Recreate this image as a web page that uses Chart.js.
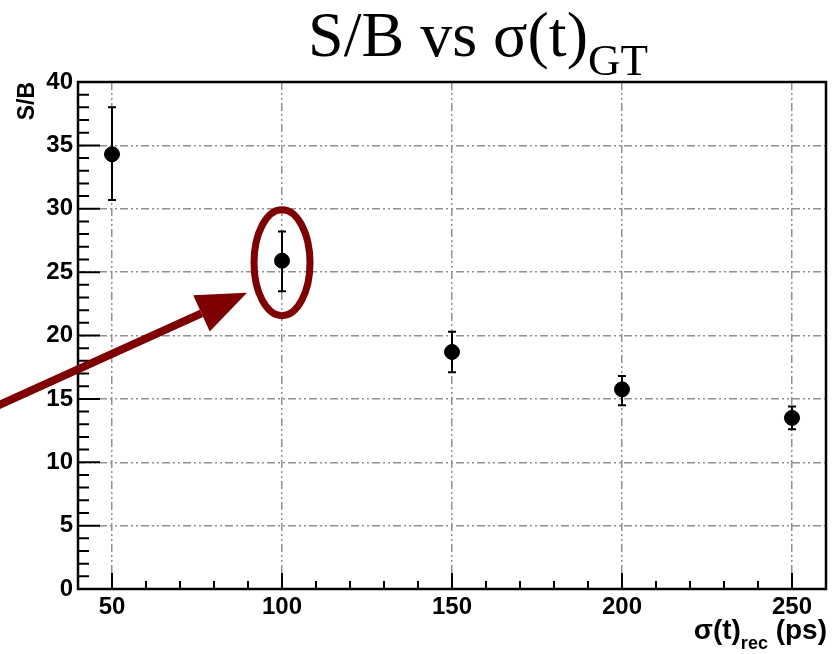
<!DOCTYPE html>
<html>
<head>
<meta charset="utf-8">
<script src="https://cdn.jsdelivr.net/npm/chart.js@4/dist/chart.umd.min.js"></script>
<style>
  html, body { margin: 0; padding: 0; background: #fff; }
  #wrap { width: 839px; height: 654px; position: relative; }
</style>
</head>
<body>
<div id="wrap"><canvas id="sbChart"></canvas></div>
<script>
// sigma(t) resolution points (ps) and S/B values
const sigmaValues = [50, 100, 150, 200, 250];
const sbValues = [34.3, 25.9, 18.7, 15.75, 13.5];
const errLow = [30.7, 23.5, 17.1, 14.5, 12.6];
const errHigh = [38.0, 28.2, 20.3, 16.8, 14.4];
const xTicks = [50, 100, 150, 200, 250];
const yTicks = [0, 5, 10, 15, 20, 25, 30, 35, 40];

const highlightIndex = 1; // the circled point
const darkRed = "#7f0000";
const sansBold = "'Liberation Sans', Arial, sans-serif";
const serif = "'Liberation Serif', 'Times New Roman', serif";

// error bars, frame, inner tick marks, titles and the annotation
const rootStylePlugin = {
  id: "rootStyle",
  afterDatasetsDraw(chart) {
    const { ctx, scales } = chart;
    const xs = scales.x;
    const ys = scales.y;

    // error bars
    ctx.save();
    ctx.strokeStyle = "#000";
    ctx.lineWidth = 2;
    sigmaValues.forEach((v, i) => {
      const px = xs.getPixelForValue(v);
      const top = ys.getPixelForValue(errHigh[i]);
      const bot = ys.getPixelForValue(errLow[i]);
      ctx.beginPath();
      ctx.moveTo(px, top);
      ctx.lineTo(px, bot);
      ctx.moveTo(px - 4, top);
      ctx.lineTo(px + 4, top);
      ctx.moveTo(px - 4, bot);
      ctx.lineTo(px + 4, bot);
      ctx.stroke();
    });
    ctx.restore();
  },
  afterDraw(chart) {
    const { ctx, chartArea, scales } = chart;
    const xs = scales.x;
    const ys = scales.y;
    const { left, right, top, bottom } = chartArea;

    ctx.save();
    // inner tick marks (major + minor)
    ctx.strokeStyle = "#000";
    ctx.lineWidth = 2;
    ctx.beginPath();
    for (let v = 1; v < 40; v++) {
      const py = ys.getPixelForValue(v);
      const len = v % 5 === 0 ? 22 : 11;
      ctx.moveTo(left, py);
      ctx.lineTo(left + len, py);
    }
    for (let v = 50; v < 260; v += 10) {
      const px = xs.getPixelForValue(v);
      const len = v % 50 === 0 ? 16 : 8;
      ctx.moveTo(px, bottom);
      ctx.lineTo(px, bottom - len);
    }
    ctx.stroke();

    // frame
    ctx.lineWidth = 2.5;
    ctx.strokeRect(left, top, right - left, bottom - top);

    // title  S/B vs σ(t)_GT
    ctx.fillStyle = "#000";
    ctx.textBaseline = "alphabetic";
    ctx.textAlign = "left";
    ctx.font = "64px " + serif;
    const mainTxt = "S/B vs σ(t)";
    const mainW = ctx.measureText(mainTxt).width;
    ctx.font = "45px " + serif;
    const subW = ctx.measureText("GT").width;
    const startX = 478 - (mainW + subW) / 2;
    ctx.font = "64px " + serif;
    ctx.fillText(mainTxt, startX, 56);
    ctx.font = "45px " + serif;
    ctx.fillText("GT", startX + mainW, 75);

    // y axis title
    ctx.save();
    ctx.translate(34, 82);
    ctx.rotate(-Math.PI / 2);
    ctx.textAlign = "right";
    ctx.font = "bold 23px " + sansBold;
    ctx.fillText("S/B", 0, 0);
    ctx.restore();

    // x axis title  σ(t)_rec (ps)
    ctx.textAlign = "left";
    ctx.font = "bold 28px " + sansBold;
    const t1 = "σ(t)";
    const t3 = " (ps)";
    const w1 = ctx.measureText(t1).width;
    const w3 = ctx.measureText(t3).width;
    ctx.font = "bold 18px " + sansBold;
    const w2 = ctx.measureText("rec").width;
    const x0 = right + 1 - (w1 + w2 + w3);
    ctx.font = "bold 28px " + sansBold;
    ctx.fillText(t1, x0, 639);
    ctx.fillText(t3, x0 + w1 + w2, 639);
    ctx.font = "bold 18px " + sansBold;
    ctx.fillText("rec", x0 + w1, 649);

    // annotation: ellipse around highlighted point + arrow
    const cx = xs.getPixelForValue(sigmaValues[highlightIndex]);
    const cy = ys.getPixelForValue(sbValues[highlightIndex]) + 2;
    ctx.strokeStyle = darkRed;
    ctx.fillStyle = darkRed;
    ctx.lineWidth = 7;
    ctx.beginPath();
    ctx.ellipse(cx, cy, 28, 53, 0, 0, Math.PI * 2);
    ctx.stroke();

    const ax0 = -5, ay0 = 407, ax1 = cx - 35, ay1 = cy + 30;
    const ang = Math.atan2(ay1 - ay0, ax1 - ax0);
    const headLen = 50, headW = 20;
    const bx = ax1 - headLen * Math.cos(ang);
    const by = ay1 - headLen * Math.sin(ang);
    ctx.lineWidth = 8;
    ctx.beginPath();
    ctx.moveTo(ax0, ay0);
    ctx.lineTo(bx, by);
    ctx.stroke();
    ctx.beginPath();
    ctx.moveTo(ax1, ay1);
    ctx.lineTo(bx + headW * Math.sin(ang), by - headW * Math.cos(ang));
    ctx.lineTo(bx - headW * Math.sin(ang), by + headW * Math.cos(ang));
    ctx.closePath();
    ctx.fill();
    ctx.restore();
  },
};

const gridStyle = {
  color: "#909090",
  lineWidth: 1.5,
  drawTicks: false,
};

const ctx = document.getElementById("sbChart").getContext("2d");
new Chart(ctx, {
  type: "scatter",
  data: {
    datasets: [
      {
        data: sigmaValues.map((x, i) => ({ x: x, y: sbValues[i] })),
        backgroundColor: "#000",
        borderColor: "#000",
        pointRadius: 7.5,
        pointHoverRadius: 7.5,
      },
    ],
  },
  options: {
    responsive: true,
    maintainAspectRatio: false,
    animation: false,
    layout: { padding: { left: 0, top: 82, right: 13, bottom: 0 } },
    plugins: {
      legend: { display: false },
      tooltip: { enabled: false },
    },
    scales: {
      x: {
        type: "linear",
        min: 40,
        max: 260,
        afterBuildTicks: (axis) => {
          axis.ticks = xTicks.map((v) => ({ value: v }));
        },
        afterFit: (axis) => {
          axis.height = 65;
        },
        grid: gridStyle,
        border: { display: false, dash: [8, 3, 2, 3, 2, 3] },
        ticks: {
          color: "#000",
          padding: 4,
          maxRotation: 0,
          font: { family: sansBold, size: 24, weight: "bold" },
        },
      },
      y: {
        type: "linear",
        min: 0,
        max: 40,
        afterBuildTicks: (axis) => {
          axis.ticks = yTicks.map((v) => ({ value: v }));
        },
        afterFit: (axis) => {
          axis.width = 78;
        },
        grid: gridStyle,
        border: { display: false, dash: [8, 3, 2, 3, 2, 3] },
        ticks: {
          color: "#000",
          padding: 5,
          font: { family: sansBold, size: 24, weight: "bold" },
        },
      },
    },
  },
  plugins: [rootStylePlugin],
});
</script>
</body>
</html>
